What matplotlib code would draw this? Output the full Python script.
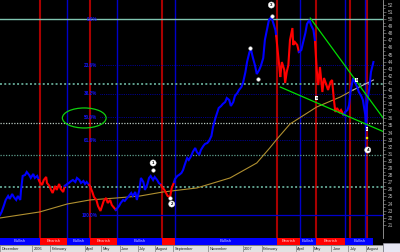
import numpy as np
import pandas as pd
import matplotlib
matplotlib.use('Agg')
import matplotlib.pyplot as plt
from matplotlib.patches import Ellipse, Rectangle

plt.rcParams['font.family'] = ['Liberation Sans', 'DejaVu Sans']

START = '2005-11-07'   # session 0

# ---------------- data ----------------
sessions = [0, 2, 5, 7, 10, 12, 15, 17, 20, 22, 25, 26, 28, 31, 33, 36, 38, 41, 43, 46, 48,
            49, 52, 54, 57, 58, 61, 63, 65, 68, 70, 73, 75, 78, 80,
            83, 85, 88, 90, 93, 95, 98, 100, 103, 105, 107, 110,
            111, 114, 116, 119, 121, 124, 126, 128, 131, 133, 136, 138, 141, 143,
            144, 147, 149, 152, 154, 157, 159, 162, 164, 167, 169, 172, 174, 177, 179, 182, 184, 186, 189, 191, 194, 196, 199,
            200, 203, 205, 207, 210, 212, 215,
            216, 219, 221, 224, 226, 228, 231, 233, 236, 238, 241, 243, 246, 248, 251, 253, 256, 258, 261, 263, 266, 268,
            270, 273, 275, 278, 280, 283, 285, 288, 290, 293, 295, 298, 300, 303, 305, 308, 310, 312, 315, 317, 320, 322,
            325, 327, 330, 332, 335, 337, 340, 341,
            343, 345, 346, 348, 351, 352, 354, 356, 358, 361, 362, 364, 367, 369,
            372, 374, 377, 379, 382, 384, 387, 389,
            391, 393, 395, 398, 400, 403, 405, 408, 410, 412, 414, 416, 419, 421, 424,
            426, 429, 431, 433, 436, 438, 441, 443, 446, 448, 451, 452, 453, 456, 458, 461]
closes = [22.39, 22.82, 23.80, 24.51, 25.07, 24.65, 25.35, 24.93, 24.51, 25.07, 24.51, 25.92, 27.89, 28.03, 28.45, 28.03, 27.61, 28.17, 27.61, 27.89, 27.32,
          27.04, 26.62, 27.32, 27.75, 26.90, 26.48, 25.92, 25.49, 26.48, 25.92, 26.76, 26.06, 25.63, 26.48,
          26.76, 26.90, 27.18, 27.32, 27.04, 27.61, 27.32, 26.90, 27.18, 26.76, 27.04, 26.62,
          26.48, 25.63, 24.93, 24.51, 23.66, 22.96, 23.66, 24.37, 24.79, 24.08, 24.51, 23.80, 23.38, 23.10,
          23.24, 23.66, 24.08, 24.51, 24.37, 24.79, 25.07, 25.49, 25.07, 25.63, 24.51, 25.92, 27.61, 27.04, 25.92, 26.76, 27.61, 27.89, 27.32, 27.75, 27.32, 26.90, 26.62,
          26.34, 25.92, 25.49, 25.07, 24.93, 26.20, 27.04,
          27.46, 27.89, 28.03, 28.31, 28.73, 29.44, 30.42, 30.14, 30.70, 31.27, 31.83, 31.27, 30.85, 31.55, 32.11, 32.39, 32.54, 32.82, 33.52, 34.79, 36.06, 36.76,
          37.46, 37.75, 38.03, 38.31, 38.87, 38.59, 37.75, 38.31, 39.15, 39.58, 40.00, 40.42, 40.99, 42.54, 43.94, 45.35, 45.63, 44.65, 43.38, 42.25, 42.82, 43.38,
          44.51, 47.04, 48.73, 49.86, 50.28, 49.58, 48.45, 47.61,
          45.35, 43.10, 41.83, 43.94, 42.82, 40.99, 42.54, 43.52, 47.04, 48.73, 46.34, 46.76, 46.34, 45.35,
          45.63, 46.62, 48.03, 49.30, 49.86, 49.15, 48.45, 46.76,
          42.82, 40.70, 43.24, 39.72, 41.69, 40.70, 40.00, 41.13, 41.41, 38.87, 36.90, 37.46, 36.90, 37.18, 36.48,
          36.90, 37.18, 37.89, 40.00, 41.69, 41.13, 40.42, 39.72, 39.15, 38.59, 36.48, 34.37, 37.89, 40.28, 42.54, 43.94]

ma_sessions = [0, 49, 83, 111, 144, 173, 201, 243, 284, 317, 333, 342, 358, 391, 420, 436, 451, 461]
ma_values = [21.97, 22.82, 23.94, 24.51, 24.79, 25.07, 25.63, 26.20, 27.61, 29.72, 31.83, 33.10, 35.21, 37.61, 39.01, 40.00, 40.85, 41.41]

regime_starts = [0, 49, 83, 111, 144, 200, 216, 342, 370, 390, 426]
regime_names = ['Bullish', 'Bearish', 'Bullish', 'Bearish', 'Bullish', 'Bearish',
                'Bullish', 'Bearish', 'Bullish', 'Bearish', 'Bullish']
regime_end = 461

red_line_sessions = [49, 111, 200, 342, 390, 432, 453]
blue_line_sessions = [83, 144, 216, 370, 426, 451]

level_solid = 50.0
levels_dotted = [40.85, 35.35, 30.85, 26.34]
levels_colors = ['#5e9e8c', '#b8c8c0', '#5e9e8c', '#5e9e8c']
levels_widths = [1.4, 0.9, 0.9, 1.4]

fib_high, fib_low = 50.0, 22.39
fib_ratios = [0.0, 0.236, 0.382, 0.5, 0.618, 1.0]
fib_labels = ['0.0%', '23.6%', '38.2%', '50.0%', '61.8%', '100.0%']
fib_start = 123

ellipse_center = (104, 36.06)
ellipse_size = (54, 2.82)

upper_trend_s, upper_trend_v = [383, 473], [50.14, 36.06]
lower_trend_s, lower_trend_v = [346, 473], [40.42, 34.15]

wave_labels = ['1', '2', '3', '4']
wave_sessions = [189, 212, 335, 454]
wave_values = [29.72, 23.94, 51.97, 31.55]
dot_sessions = [189, 210, 309, 319, 336]
dot_values = [28.73, 24.79, 45.92, 41.55, 50.42]
abc_labels = ['a', 'b', 'c']
abc_sessions = [391, 440, 453]
abc_values = [38.87, 41.41, 34.51]
ysq_session, ysq_value = 453, 33.24

month_labels = ['December', '2006', 'February', 'April', 'May', 'June', 'July', 'August',
                'September', 'November', '2007', 'February', 'April', 'May', 'June', 'July', 'August']
month_dates = ['2005-11-07', '2006-01-02', '2006-02-01', '2006-04-03', '2006-05-01', '2006-06-01',
               '2006-07-03', '2006-08-01', '2006-09-01', '2006-11-01', '2007-01-01', '2007-02-01',
               '2007-04-02', '2007-05-01', '2007-06-01', '2007-07-02', '2007-08-01']

# ---------------- figure ----------------
W, H = 400, 252
fig = plt.figure(figsize=(W / 100, H / 100), dpi=100, facecolor='black')
XMAX = 383 / 0.81
plot_w = 383 / W

ax = fig.add_axes([0, 14 / H, plot_w, 238 / H])
ax.set_facecolor('black')
ax.set_xlim(0, XMAX)
ax.set_ylim(19.15, 52.68)
for sp in ['left', 'top', 'bottom']:
    ax.spines[sp].set_visible(False)
ax.spines['right'].set_color('#a0a0a0')
ax.spines['right'].set_linewidth(0.6)
ax.set_xticks([])
ax.yaxis.tick_right()
ax.set_yticks(range(21, 53))
ax.set_yticks(np.arange(21.5, 52.5, 1.0), minor=True)
ax.tick_params(axis='y', which='major', colors='#a0a0a0', length=2.4, width=0.4,
               labelsize=3.4, labelcolor='#b8b8b8', pad=1.2)
ax.tick_params(axis='y', which='minor', colors='#a0a0a0', length=1.2, width=0.4)

# vertical regime lines
for s in red_line_sessions:
    ax.axvline(s, color='#a80000', lw=1.5, zorder=1)
for s in blue_line_sessions:
    ax.axvline(s, color='#0000c8', lw=1.0, zorder=1)

# horizontal levels
ax.axhline(level_solid, color='#7fc4b0', lw=1.0, zorder=2)
for v, c, w in zip(levels_dotted, levels_colors, levels_widths):
    ax.axhline(v, color=c, lw=w, ls=(0, (1.0, 1.2)), zorder=2)

# fibonacci
for r, lab in zip(fib_ratios, fib_labels):
    v = fib_high - r * (fib_high - fib_low)
    if r == 1.0:
        ax.plot([fib_start, XMAX], [v, v], color='#0000cc', lw=0.9, zorder=2)
    elif r > 0:
        ax.plot([fib_start, XMAX], [v, v], color='#0000dd', lw=0.6, ls=(0, (0.8, 1.4)), zorder=2)
    ax.text(fib_start - 3, v, lab, color='#1414ff', fontsize=3.3, fontweight='bold',
            ha='right', va='center', zorder=3)

# ellipse
ax.add_patch(Ellipse(ellipse_center, ellipse_size[0], ellipse_size[1], fill=False,
                     ec='#10d010', lw=0.9, zorder=4))

# moving average
ma_s = np.array(ma_sessions); ma_v = np.array(ma_values)
ax.plot(ma_s[ma_s <= 436], ma_v[ma_s <= 436], color='#b09030', lw=0.8, zorder=3)
ax.plot(ma_s[ma_s >= 436], ma_v[ma_s >= 436], color='#b8b0c8', lw=0.8, zorder=3)

# price coloured by regime
s_arr = np.array(sessions); c_arr = np.array(closes)
bounds = regime_starts[1:] + [regime_end + 1]
for a, b, name in zip(regime_starts, bounds, regime_names):
    idx = np.where((s_arr >= a) & (s_arr < b))[0]
    if len(idx) == 0:
        continue
    if idx[0] > 0:
        idx = np.r_[idx[0] - 1, idx]
    ax.plot(s_arr[idx], c_arr[idx], color='#0000ff' if name == 'Bullish' else '#ff0000',
            lw=1.5, zorder=5, solid_joinstyle='miter')

# trend lines
ax.plot(upper_trend_s, upper_trend_v, color='#00dd00', lw=0.9, zorder=6)
ax.plot(lower_trend_s, lower_trend_v, color='#00dd00', lw=0.9, zorder=6)

# annotations
ax.plot(dot_sessions, dot_values, 'o', ms=2.6, mfc='white', mec='#c0c0c0', mew=0.3, zorder=7)
for lab, s, v in zip(wave_labels, wave_sessions, wave_values):
    ax.text(s, v, lab, fontsize=3.2, fontweight='bold', color='black', ha='center', va='center',
            zorder=8, bbox=dict(boxstyle='circle,pad=0.25', fc='white', ec='#d0d0d0', lw=0.3))
for lab, s, v in zip(abc_labels, abc_sessions, abc_values):
    ax.text(s, v, lab, fontsize=2.6, color='black', ha='center', va='center', zorder=8,
            bbox=dict(boxstyle='square,pad=0.12', fc='white', ec='none'))
ax.plot([ysq_session], [ysq_value], 's', ms=2.0, mfc='#ffff00', mec='#c0c000', mew=0.3, zorder=7)

# regime band
axb = fig.add_axes([0, 7 / H, plot_w, 7 / H])
axb.set_facecolor('black')
axb.set_xlim(0, XMAX); axb.set_ylim(0, 1)
axb.axis('off')
axb.add_patch(Rectangle((0, 0), XMAX, 1, color='black'))
for a, b, name in zip(regime_starts, bounds, regime_names):
    b = min(b, regime_end)
    col = '#0000ff' if name == 'Bullish' else '#ff0000'
    axb.add_patch(Rectangle((a, 0), b - a, 1, color=col, lw=0))
    if b - a >= 17:
        axb.text((a + b) / 2, 0.5, name, fontsize=3.0, ha='center', va='center',
                 color='#c8c8ff' if name == 'Bullish' else '#ffd0d0')

# month row
axm = fig.add_axes([0, 0, plot_w, 7 / H])
axm.set_facecolor('#e2e2e2')
axm.set_xlim(0, XMAX); axm.set_ylim(0, 1)
axm.set_xticks([]); axm.set_yticks([])
for sp in axm.spines.values():
    sp.set_visible(False)
axm.axhline(1, color='#707070', lw=0.6)
for lab, d in zip(month_labels, month_dates):
    pos = np.busday_count(START, d)
    axm.axvline(pos, color='#808080', lw=0.5)
    axm.text(pos + 1.5, 0.42, lab, fontsize=2.8, ha='left', va='center', color='#202020', clip_on=True)

# bottom-right box
fig.patches.append(Rectangle((383 / W, 0), 17 / W, 9 / H, transform=fig.transFigure,
                             fc='#e6e6f2', ec='#a0a0b0', lw=0.4))

fig.savefig('out.png', dpi=100, facecolor='black')
